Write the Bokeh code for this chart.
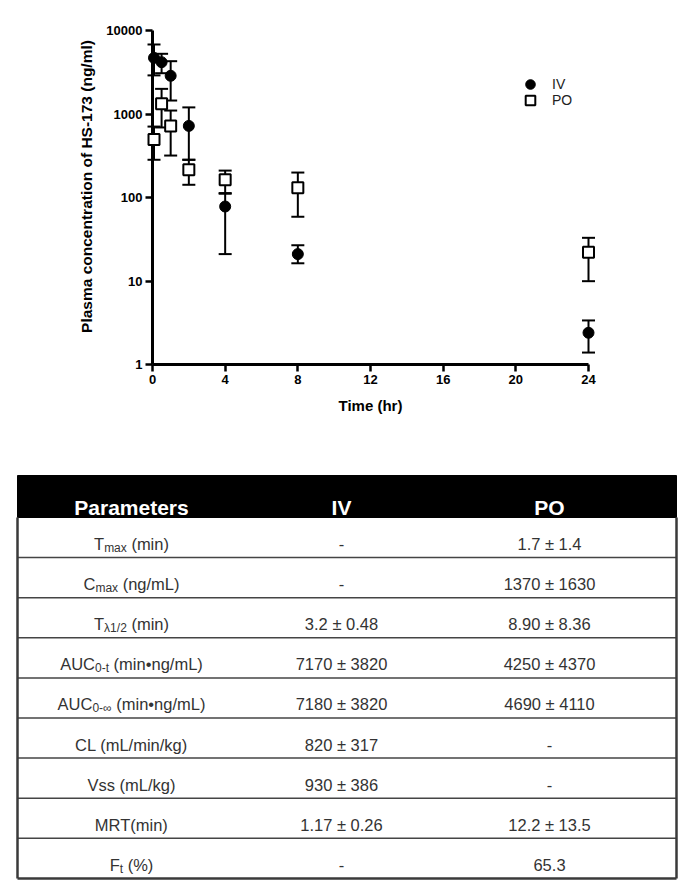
import math
from bokeh.plotting import figure
from bokeh.models import (Range1d, FixedTicker, NumeralTickFormatter, ColumnDataSource,
                          Legend, LegendItem)
from bokeh.layouts import column
from bokeh.embed import file_html
from bokeh.resources import INLINE
from bokeh.core.properties import value

# ---------------- data ----------------
time_iv = [0.083, 0.5, 1, 2, 4, 8, 24]
iv_mean = [4700, 4170, 2870, 720, 78, 21, 2.4]
iv_lower = [2900, 3080, 1450, 283, 21, 16.3, 1.39]
iv_upper = [6800, 5260, 4290, 1200, 111, 26.8, 3.37]

time_po = [0.083, 0.5, 1, 2, 4, 8, 24]
po_mean = [495, 1325, 720, 215, 163, 131, 22.1]
po_lower = [283, 690, 318, 142, 113, 58.8, 9.95]
po_upper = [707, 2000, 1100, 283, 210, 199, 32.9]

x_ticks = [0, 4, 8, 12, 16, 20, 24]
y_ticks = [1, 10, 100, 1000, 10000]

series_names = ["IV", "PO"]
y_title = "Plasma concentration of HS-173 (ng/ml)"
x_title = "Time (hr)"

table_headers = ["Parameters", "IV", "PO"]
param_main = ["T", "C", "T", "AUC", "AUC", "CL (mL/min/kg)", "Vss (mL/kg)", "MRT(min)", "F"]
param_sub = ["max", "max", "\u03bb1/2", "0-t", "0-\u221e", "", "", "", "t"]
param_tail = [" (min)", " (ng/mL)", " (min)", " (min\u2022ng/mL)", " (min\u2022ng/mL)", "", "", "", " (%)"]
iv_values = ["-", "-", "3.2 \u00b1 0.48", "7170 \u00b1 3820", "7180 \u00b1 3820",
             "820 \u00b1 317", "930 \u00b1 386", "1.17 \u00b1 0.26", "-"]
po_values = ["1.7 \u00b1 1.4", "1370 \u00b1 1630", "8.90 \u00b1 8.36", "4250 \u00b1 4370",
             "4690 \u00b1 4110", "-", "-", "12.2 \u00b1 13.5", "65.3"]

FONT = "Liberation Sans"
W = 697
H1 = 465
H2 = 421
FL, FR, FT, FB = 152, 588, 30, 364   # plot frame edges (pixels)

# ---------------- chart ----------------
p = figure(width=W, height=H1, x_range=Range1d(0, 24), y_range=Range1d(1, 10000),
           y_axis_type="log", output_backend="svg", toolbar_location=None,
           min_border_left=FL, min_border_right=W - FR,
           min_border_top=FT, min_border_bottom=H1 - FB)
p.outline_line_color = None
p.grid.visible = False
p.background_fill_color = "white"
p.border_fill_color = "white"

for ax in (p.xaxis[0], p.yaxis[0]):
    ax.axis_line_width = 3
    ax.axis_line_color = "black"
    ax.major_tick_line_width = 2.5
    ax.major_tick_line_color = "black"
    ax.major_tick_out = 7
    ax.major_tick_in = 0
    ax.minor_tick_line_color = None
    ax.major_label_text_font = FONT
    ax.major_label_text_font_style = "bold"
    ax.major_label_text_font_size = "13px"
    ax.major_label_text_color = "black"
    ax.major_label_standoff = 3

p.xaxis.ticker = FixedTicker(ticks=x_ticks)
p.yaxis.ticker = FixedTicker(ticks=y_ticks)
p.yaxis.formatter = NumeralTickFormatter(format="0")
p.xaxis.axis_label = x_title
p.xaxis.axis_label_text_font = FONT
p.xaxis.axis_label_text_font_style = "bold"
p.xaxis.axis_label_text_font_size = "15px"
p.xaxis.axis_label_text_color = "black"
p.xaxis.axis_label_standoff = 10

src_iv = ColumnDataSource(dict(t=time_iv, m=iv_mean, lo=iv_lower, hi=iv_upper))
src_po = ColumnDataSource(dict(t=time_po, m=po_mean, lo=po_lower, hi=po_upper))

# error bars (drawn first, on the unclipped overlay level)
for src in (src_iv, src_po):
    p.segment(x0="t", y0="lo", x1="t", y1="hi", source=src, line_color="black",
              line_width=2, level="overlay")
    p.scatter("t", "lo", source=src, marker="dash", size=13, line_color="black",
              line_width=2, level="overlay")
    p.scatter("t", "hi", source=src, marker="dash", size=13, line_color="black",
              line_width=2, level="overlay")

r_iv = p.scatter("t", "m", source=src_iv, marker="circle", size=11,
                 fill_color="black", line_color="black", level="overlay")
r_po = p.scatter("t", "m", source=src_po, marker="square", size=11,
                 fill_color="white", line_color="black", line_width=2, level="overlay")

for name, rend, ly in ((series_names[0], r_iv, 268), (series_names[1], r_po, 252)):
    leg = Legend(items=[LegendItem(label=name, renderers=[rend])], location=(366, ly),
                 glyph_width=24, glyph_height=24, label_height=24, label_standoff=10,
                 padding=0, margin=0, spacing=0,
                 border_line_alpha=0, background_fill_alpha=0,
                 label_text_font=FONT, label_text_font_size="14px", label_text_color="#222")
    p.add_layout(leg)

# y-axis title as a rotated text glyph (position derived from the frame scale)
px_per_hr = (FR - FL) / 24.0
px_per_dec = (FB - FT) / 4.0
lab_x = (86 - FL) / px_per_hr
lab_y = 10 ** (4 - (186 - FT) / px_per_dec)
p.text(x=[lab_x], y=[lab_y], text=[y_title], angle=math.pi / 2, text_align="center",
       text_baseline="middle", text_font=value(FONT), text_font_style="bold",
       text_font_size="15.5px", text_color="black", level="overlay")

# ---------------- table ----------------
# same horizontal borders as the chart, x range maps 1 unit = 1 pixel across the canvas
t = figure(width=W, height=H2, x_range=Range1d(FL, FR), y_range=Range1d(H2, 0),
           output_backend="svg", toolbar_location=None,
           x_axis_location=None, y_axis_location=None,
           min_border_left=FL, min_border_right=W - FR, min_border_top=0, min_border_bottom=0)
t.outline_line_color = None
t.grid.visible = False
t.background_fill_color = "white"
t.border_fill_color = "white"

L, R = 17, 676
HT, HB = 10, 52
ROW_H = 40.1
n_rows = len(param_main)
BOT = HB + ROW_H * n_rows
col_cx = [131, 341, 549]
OV = dict(level="overlay")

t.quad(left=[L], right=[R], top=[HT], bottom=[HB], fill_color="black", line_color="black", **OV)
row_lines = [HB + ROW_H * i for i in range(1, n_rows)]
t.segment(x0=[L] * len(row_lines), x1=[R] * len(row_lines), y0=row_lines, y1=row_lines,
          line_color="#444444", line_width=1.5, **OV)
t.segment(x0=[L, R, L], x1=[L, R, R], y0=[HB, HB, BOT], y1=[BOT, BOT, BOT],
          line_color="#3a3a3a", line_width=2.5, **OV)

t.text(x=col_cx, y=[HT + 31.7] * 3, text=table_headers, text_align="center",
       text_baseline="alphabetic", text_color="white", text_font=value(FONT),
       text_font_style="bold", text_font_size="21px", **OV)

AW = {' ': 278, '(': 333, ')': 333, '/': 278, '-': 333, '.': 278, '%': 889, '\u2022': 350,
      '\u221e': 713, '\u03bb': 500, 'A': 667, 'C': 722, 'F': 611, 'L': 556, 'M': 833,
      'R': 722, 'T': 611, 'U': 722, 'V': 667, 'a': 556, 'g': 556, 'i': 222, 'k': 500,
      'l': 222, 'm': 833, 'n': 556, 's': 500, 't': 278, 'x': 500, 'e': 556, 'r': 333}


def tw(s, size):
    return sum(AW.get(c, 556) for c in s) * size / 1000.0


MS, SS = 16.5, 12
base_y = [HB + ROW_H * i + ROW_H / 2 + 6.5 for i in range(n_rows)]
mx, sx, tx, tail_txt = [], [], [], []
for m, s, tl in zip(param_main, param_sub, param_tail):
    total = tw(m, MS) + tw(s, SS) + tw(tl, MS)
    x0 = col_cx[0] - total / 2
    lead = len(tl) - len(tl.lstrip(" "))
    mx.append(x0)
    sx.append(x0 + tw(m, MS))
    tx.append(x0 + tw(m, MS) + tw(s, SS) + tw(" " * lead, MS))
    tail_txt.append(tl.lstrip(" "))

common = dict(text_color="#333333", text_font=value(FONT), text_baseline="alphabetic", **OV)
t.text(x=mx, y=base_y, text=param_main, text_align="left", text_font_size=f"{MS}px", **common)
t.text(x=sx, y=[b + 4 for b in base_y], text=param_sub, text_align="left",
       text_font_size=f"{SS}px", **common)
t.text(x=tx, y=base_y, text=tail_txt, text_align="left", text_font_size=f"{MS}px", **common)
t.text(x=[col_cx[1]] * n_rows, y=base_y, text=iv_values, text_align="center",
       text_font_size=f"{MS}px", **common)
t.text(x=[col_cx[2]] * n_rows, y=base_y, text=po_values, text_align="center",
       text_font_size=f"{MS}px", **common)

layout = column(p, t)
open("out.html", "w").write(file_html(layout, INLINE))
